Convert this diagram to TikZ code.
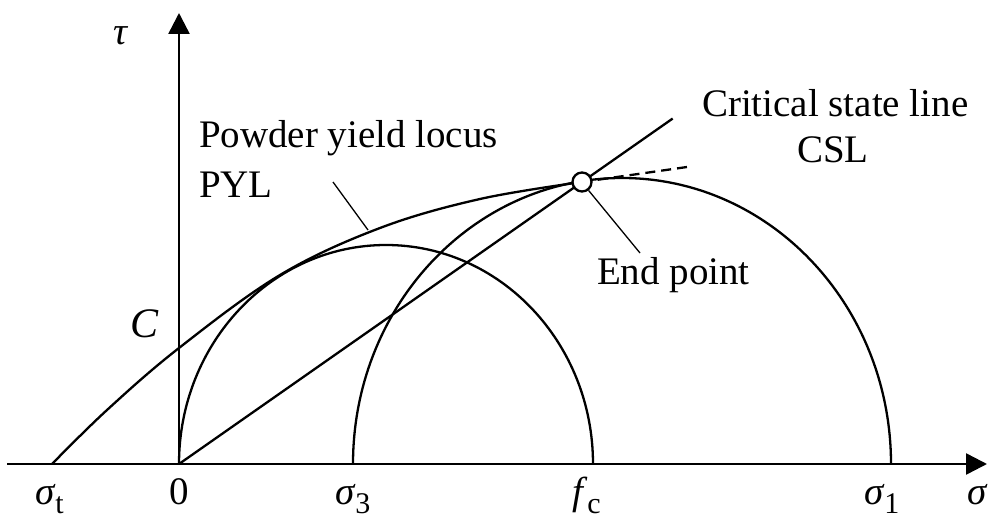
\documentclass[tikz,border=0pt]{standalone}
\usepackage{fontspec}
\setmainfont{Liberation Serif}
\usetikzlibrary{arrows.meta,calc}
\newcommand\mysub[1]{\raisebox{-4.5pt}{\fontsize{15}{15}\selectfont #1}}
\begin{document}
\begin{tikzpicture}[x=0.5pt,y=0.5pt,
  lbl/.style={inner sep=0pt, outer sep=0pt, font=\fontsize{19.5}{23}\selectfont},
  curve/.style={line width=1.15pt},
  leader/.style={line width=0.65pt},
  axis/.style={line width=1.25pt, -{Triangle[length=10.5pt,width=10.5pt]}}]
\useasboundingbox (0,0) rectangle (991,520);
% key points
\coordinate (O) at (179,56);
\coordinate (E) at (582,338);
\coordinate (T) at (52,56);
\coordinate (S3) at (353,56);
\coordinate (X0) at (7,56);
\coordinate (XE) at (987,56);
\coordinate (YE) at (179,507);
\coordinate (CE) at ($(O)!1.225!(E)$);
\coordinate (DE) at (687,353);
% axes
\draw[axis] (X0) -- (XE);
\draw[axis] (O) -- (YE);
% Mohr circles
\draw[curve] (O) arc[start angle=180,end angle=0,x radius=207,y radius=219];
\draw[curve] (S3) arc[start angle=180,end angle=0,x radius=269,y radius=286];
% critical state line
\draw[curve] (O) -- (CE);
% powder yield locus
\draw[curve] plot[smooth, tension=0.6] coordinates {(52,56) (107,110) (179,172) (280,245) (380,292) (480,321) (582,338)};
% tangent (dashed)
\draw[curve, dash pattern=on 5pt off 3pt] (E) -- (DE);
% end point marker
\node[circle, draw, fill=white, line width=1.15pt, minimum size=9.5pt, inner sep=0pt] (EP) at (E) {};
% labels
\node[lbl, anchor=base west] (tau) at (113,475) {\textit{τ}};
\node[lbl, anchor=base west] (pyl1) at (199,372) {Powder yield locus};
\node[lbl, anchor=base west] (pyl2) at (199,322) {PYL};
\node[lbl, anchor=base west] (csl1) at (702,403) {Critical state line};
\node[lbl, anchor=base] (csl2) at (833,357) {CSL};
\node[lbl, anchor=base west] (endp) at (597,235) {End point};
\node[lbl, anchor=base west, font=\fontsize{21}{23}\selectfont] (cc) at (130,183) {\textit{C}};
\node[lbl, anchor=base west] (st) at (35,16) {\textit{σ}\mysub{t}};
\node[lbl, anchor=base] (zero) at (179,16) {0};
\node[lbl, anchor=base west] (s3) at (335,16) {\textit{σ}\mysub{3}};
\node[lbl, anchor=base west] (fc) at (572,16) {\textit{f}\mysub{c}};
\node[lbl, anchor=base west] (s1) at (864,16) {\textit{σ}\mysub{1}};
\node[lbl, anchor=base west] (sig) at (967,16) {\textit{σ}};
% leader lines
\coordinate (L1a) at (333,338);
\coordinate (L1b) at (368,290);
\coordinate (L2b) at (640,267);
\draw[leader] (L1a) -- (L1b);
\draw[leader] (EP.-52) -- (L2b);
\end{tikzpicture}
\end{document}
